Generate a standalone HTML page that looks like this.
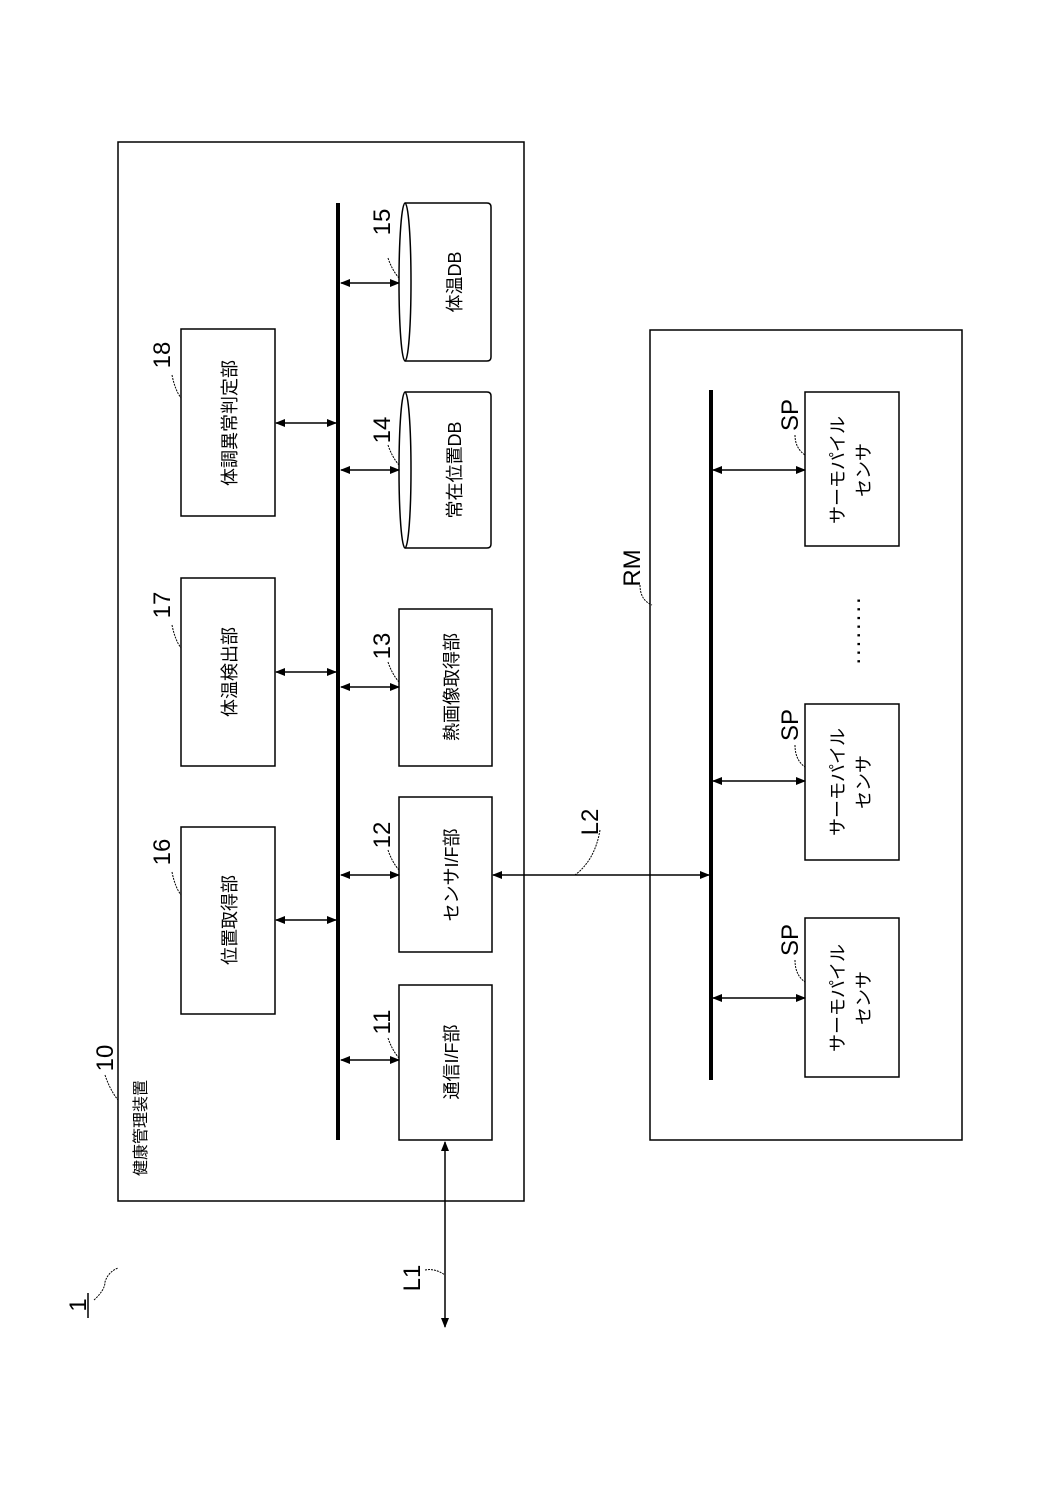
<!DOCTYPE html>
<html><head><meta charset="utf-8"><style>html,body{margin:0;padding:0;background:#fff}svg{display:block}text{font-family:"Liberation Sans","Noto Sans CJK JP",sans-serif;fill:#000}</style></head><body>
<svg width="1039" height="1512" viewBox="0 0 1039 1512" xmlns="http://www.w3.org/2000/svg">
<defs>
<marker id="a" viewBox="0 0 10 10" refX="9" refY="5" markerWidth="10" markerHeight="10" orient="auto-start-reverse" markerUnits="userSpaceOnUse"><path d="M0,1 L10,5 L0,9 z" fill="#000"/></marker>
</defs>
<g fill="none" stroke="#000" stroke-width="1.5">
<rect x="118" y="142" width="406" height="1059"/>
<rect x="650" y="330" width="312" height="810"/>
<rect x="399" y="985" width="93" height="155"/>
<rect x="399" y="797" width="93" height="155"/>
<rect x="399" y="609" width="93" height="157"/>
<rect x="181" y="827" width="94" height="187"/>
<rect x="181" y="578" width="94" height="188"/>
<rect x="181" y="329" width="94" height="187"/>
<rect x="805" y="392" width="94" height="154"/>
<rect x="805" y="704" width="94" height="156"/>
<rect x="805" y="918" width="94" height="159"/>
<path d="M405,203 L487,203 Q491,203 491,207 L491,357 Q491,361 487,361 L405,361"/>
<ellipse cx="405" cy="282" rx="6" ry="79"/>
<path d="M405,392 L487,392 Q491,392 491,396 L491,544 Q491,548 487,548 L405,548"/>
<ellipse cx="405" cy="470" rx="6" ry="78"/>
</g>
<g stroke="#000" stroke-width="4"><line x1="338" y1="203" x2="338" y2="1140"/><line x1="711" y1="390" x2="711" y2="1080"/></g>
<g stroke="#000" stroke-width="1.5" marker-start="url(#a)" marker-end="url(#a)">
<line x1="276" y1="920" x2="336" y2="920"/><line x1="276" y1="672" x2="336" y2="672"/><line x1="276" y1="423" x2="336" y2="423"/>
<line x1="341" y1="1060" x2="399" y2="1060"/><line x1="341" y1="875" x2="399" y2="875"/><line x1="341" y1="687" x2="399" y2="687"/><line x1="341" y1="470" x2="399" y2="470"/><line x1="341" y1="283" x2="399" y2="283"/>
<line x1="445" y1="1142" x2="445" y2="1327"/>
<line x1="493" y1="875" x2="709" y2="875"/>
<line x1="713" y1="470" x2="805" y2="470"/><line x1="713" y1="781" x2="805" y2="781"/><line x1="713" y1="998" x2="805" y2="998"/>
</g>
<g fill="none" stroke="#000" stroke-width="1" stroke-dasharray="2,1">
<path d="M105,1075 Q110,1090 118,1100"/><path d="M172,375 Q175,390 181,398"/><path d="M172,625 Q175,640 181,648"/><path d="M172,872 Q175,887 181,895"/>
<path d="M388,1038 Q392,1050 399,1058"/><path d="M388,850 Q392,862 399,870"/><path d="M388,662 Q392,674 399,682"/><path d="M388,445 Q392,457 399,465"/><path d="M388,258 Q392,270 399,278"/>
<path d="M425,1270 Q435,1268 445,1275"/><path d="M600,830 Q595,860 575,875"/><path d="M640,585 Q640,600 652,605"/>
<path d="M795,435 Q795,448 805,455"/><path d="M795,745 Q795,760 805,767"/><path d="M795,960 Q795,975 805,982"/>
<path d="M94,1300 Q105,1290 105,1282 Q108,1272 118,1268"/>
</g>
<g font-size="18" text-anchor="middle">
<text transform="translate(452,1062) rotate(-90)" dy="6">通信I/F部</text>
<text transform="translate(452,875) rotate(-90)" dy="6">センサI/F部</text>
<text transform="translate(452,687) rotate(-90)" dy="6">熱画像取得部</text>
<text transform="translate(455,470) rotate(-90)" dy="6">常在位置DB</text>
<text transform="translate(455,282) rotate(-90)" dy="6">体温DB</text>
<text transform="translate(230,920) rotate(-90)" dy="6">位置取得部</text>
<text transform="translate(230,672) rotate(-90)" dy="6">体温検出部</text>
<text transform="translate(230,423) rotate(-90)" dy="6">体調異常判定部</text>
<text transform="translate(140,1128) rotate(-90)" dy="6" font-size="16">健康管理装置</text>
<text transform="translate(852,470) rotate(-90)"><tspan x="0" dy="-8">サーモパイル</tspan><tspan x="0" dy="26">センサ</tspan></text>
<text transform="translate(852,782) rotate(-90)"><tspan x="0" dy="-8">サーモパイル</tspan><tspan x="0" dy="26">センサ</tspan></text>
<text transform="translate(852,998) rotate(-90)"><tspan x="0" dy="-8">サーモパイル</tspan><tspan x="0" dy="26">センサ</tspan></text>
</g>
<g font-size="24" text-anchor="middle">
<text transform="translate(105,1058) rotate(-90)" dy="8">10</text>
<text transform="translate(162,355) rotate(-90)" dy="8">18</text>
<text transform="translate(162,605) rotate(-90)" dy="8">17</text>
<text transform="translate(162,852) rotate(-90)" dy="8">16</text>
<text transform="translate(382,1022) rotate(-90)" dy="8">11</text>
<text transform="translate(382,835) rotate(-90)" dy="8">12</text>
<text transform="translate(382,646) rotate(-90)" dy="8">13</text>
<text transform="translate(382,430) rotate(-90)" dy="8">14</text>
<text transform="translate(382,222) rotate(-90)" dy="8">15</text>
<text transform="translate(412,1278) rotate(-90)" dy="8">L1</text>
<text transform="translate(590,822) rotate(-90)" dy="8">L2</text>
<text transform="translate(632,568) rotate(-90)" dy="8">RM</text>
<text transform="translate(790,415) rotate(-90)" dy="8">SP</text>
<text transform="translate(790,725) rotate(-90)" dy="8">SP</text>
<text transform="translate(790,940) rotate(-90)" dy="8">SP</text>
<text transform="translate(78,1305) rotate(-90)" dy="8">1</text>
<text transform="translate(852,630) rotate(-90)" dy="8" letter-spacing="2">........</text>
</g>
<line x1="88" y1="1293" x2="88" y2="1318" stroke="#000" stroke-width="1.5"/>
</svg>
</body></html>
